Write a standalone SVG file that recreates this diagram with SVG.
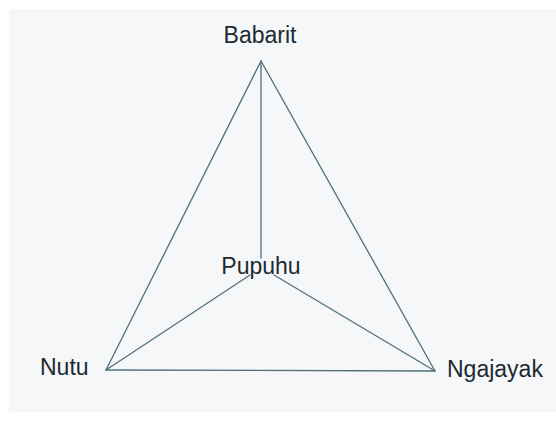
<svg xmlns="http://www.w3.org/2000/svg" width="556" height="421" viewBox="0 0 556 421">
<style>
.bg{fill:#f6f7f8}
.edge{stroke:#4f6f7c;stroke-width:1.3;fill:none;stroke-linecap:round}
.lbl{font-family:"Liberation Sans",Arial,sans-serif;font-size:23px;fill:#1c2a32}
</style>
<rect width="556" height="421" fill="#ffffff"/>
<rect class="bg" x="9" y="9" width="547" height="403"/>
<g id="connectors">
<line class="edge" x1="261" y1="61" x2="106" y2="370"/>
<line class="edge" x1="261" y1="61" x2="435" y2="371"/>
<line class="edge" x1="106" y1="370" x2="435" y2="371"/>
<line class="edge" x1="261" y1="61" x2="261" y2="258"/>
<line class="edge" x1="250" y1="275" x2="106" y2="370"/>
<line class="edge" x1="274" y1="275" x2="435" y2="371"/>
</g>
<g id="babarit"><text class="lbl" x="260" y="43" text-anchor="middle">Babarit</text></g>
<g id="pupuhu"><text class="lbl" x="261" y="274" text-anchor="middle">Pupuhu</text></g>
<g id="nutu"><text class="lbl" x="40" y="375">Nutu</text></g>
<g id="ngajayak"><text class="lbl" x="447" y="377">Ngajayak</text></g>
</svg>
